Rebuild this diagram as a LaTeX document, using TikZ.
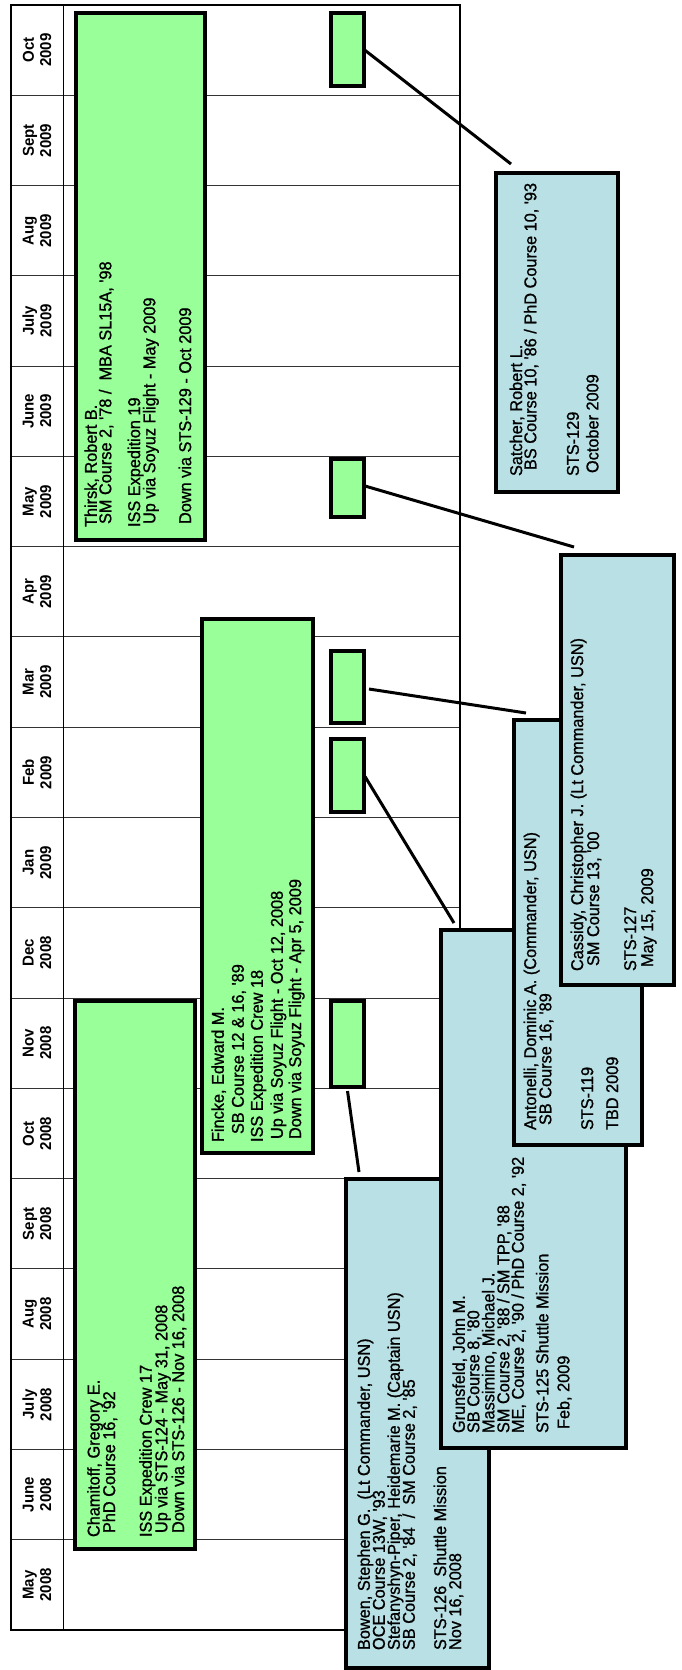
\documentclass[tikz,border=0pt]{standalone}
\usepackage{fontspec}
\setmainfont{Liberation Sans}
\newfontfamily\boxfont{Liberation Sans}[FakeBold=1.0]
\definecolor{gfill}{RGB}{153,255,153}
\definecolor{bfill}{RGB}{185,224,228}
\tikzset{
  gbox/.style={draw=black, line width=3.2pt, fill=gfill, inner sep=0pt, outer sep=0pt, anchor=north west},
  bbox/.style={draw=black, line width=3.3pt, fill=bfill, inner sep=0pt, outer sep=0pt, anchor=north west},
  txt/.style={rotate=90, yscale=1.05, anchor=base west, inner sep=0pt, outer sep=0pt, font=\boxfont\fontsize{16.3}{18}\selectfont},
  hdr/.style={rotate=90, yscale=1.05, align=center, inner sep=0pt, font=\bfseries\fontsize{15}{16.5}\selectfont},
  conn/.style={line width=3pt, draw=black},
  rowline/.style={line width=1pt, draw=black!80},
}
\newcommand\txtline[4]{\node[txt] (#1) at ({#2+0.3},#3) {#4};}
\begin{document}
\begin{tikzpicture}[x=1pt,y=-1pt]
\useasboundingbox (0,0) rectangle (681,1670);
\fill[white] (0,0) rectangle (681,1670);
% table grid
\foreach \k in {1,...,17}{
  \draw[rowline] (11,{5+\k*90.28}) -- (460,{5+\k*90.28});
}
\draw[line width=1pt] (63,5) -- (63,1630);
\draw[line width=2.2pt] (11,5) rectangle (460,1630);
% month headers
\foreach \m [count=\i from 0] in {Oct\\2009,Sept\\2009,Aug\\2009,July\\2009,June\\2009,May\\2009,Apr\\2009,Mar\\2009,Feb\\2009,Jan\\2009,Dec\\2008,Nov\\2008,Oct\\2008,Sept\\2008,Aug\\2008,July\\2008,June\\2008,May\\2008}{
  \node[hdr] (hdr\i) at (37,{5+(\i+0.5)*90.28}) {\m};
}
% ISS expedition boxes
\node[gbox, minimum width=129pt, minimum height=527pt] (thirsk) at (76,13) {};
\txtline{th1}{96.5}{527}{Thirsk, Robert B.}
\txtline{th2}{111}{524}{SM Course 2, '78 /\ \ MBA SL15A, '98}
\txtline{th3}{139.8}{527}{ISS Expedition 19}
\txtline{th4}{155}{524}{Up via Soyuz Flight - May 2009}
\txtline{th5}{190.8}{524}{Down via STS-129 - Oct 2009}

\node[gbox, minimum width=111pt, minimum height=534pt] (fincke) at (202,619) {};
\txtline{fi1}{223.5}{1142}{Fincke, Edward M.}
\txtline{fi2}{243.5}{1134}{SB Course 12 \& 16, '89}
\txtline{fi3}{262.5}{1142}{ISS Expedition Crew 18}
\txtline{fi4}{282.5}{1139}{Up via Soyuz Flight - Oct 12, 2008}
\txtline{fi5}{300.8}{1139}{Down via Soyuz Flight - Apr 5, 2009}

\node[gbox, minimum width=120pt, minimum height=548pt] (chamitoff) at (75,1001) {};
\txtline{ch1}{99.3}{1537}{Chamitoff, Gregory E.}
\txtline{ch2}{114.8}{1533}{PhD Course 16, '92}
\txtline{ch3}{151.4}{1537}{ISS Expedition Crew 17}
\txtline{ch4}{167}{1533}{Up via STS-124 - May 31, 2008}
\txtline{ch5}{183.8}{1533}{Down via STS-126 - Nov 16, 2008}

% shuttle mission markers
\node[gbox, minimum width=33pt, minimum height=73pt] (soct) at (331,13) {};
\node[gbox, minimum width=33pt, minimum height=58pt] (smay) at (331,459) {};
\node[gbox, minimum width=33pt, minimum height=72pt] (smar) at (331,651) {};
\node[gbox, minimum width=33pt, minimum height=73pt] (sfeb) at (331,739) {};
\node[gbox, minimum width=33pt, minimum height=86pt] (snov) at (331,1001) {};

% shuttle crew boxes
\node[bbox, minimum width=122pt, minimum height=319pt] (satcher) at (496,173) {};
\txtline{sa1}{521.8}{476}{Satcher, Robert L.}
\txtline{sa2}{536}{470}{BS Course 10, '86 / PhD Course 10, '93}
\txtline{sa3}{578.5}{476}{STS-129}
\txtline{sa4}{598.1}{473}{October 2009}

\node[bbox, minimum width=143pt, minimum height=489pt] (bowen) at (346,1179) {};
\txtline{bo1}{369.5}{1650}{Bowen, Stephen G.\ \ (Lt Commander, USN)}
\txtline{bo2}{384.5}{1650}{OCE Course 13W, '93}
\txtline{bo3}{399.5}{1650}{Stefanyshyn-Piper, Heidemarie M. (Captain USN)}
\txtline{bo4}{414.5}{1650}{SB Course 2, '84\ \ /\ \ SM Course 2, '85}
\txtline{bo5}{445.8}{1650}{STS-126\ \ Shuttle Mission}
\txtline{bo6}{460.8}{1650}{Nov 16, 2008}

\node[bbox, minimum width=185pt, minimum height=518pt] (grunsfeld) at (441,930) {};
\txtline{gr1}{464.5}{1433}{Grunsfeld, John M.}
\txtline{gr2}{479}{1433}{SB Course 8, '80}
\txtline{gr3}{494}{1433}{Massimino, Michael J.}
\txtline{gr4}{509}{1433}{SM Course 2, '88 / SM TPP, '88}
\txtline{gr5}{523.5}{1433}{ME, Course 2, '90 / PhD Course 2, '92}
\txtline{gr6}{548}{1433}{STS-125 Shuttle Mission}
\txtline{gr7}{569.1}{1429}{Feb, 2009}

\node[bbox, minimum width=128pt, minimum height=425pt] (antonelli) at (514,720) {};
\txtline{an1}{535.8}{1130}{Antonelli, Dominic A. (Commander, USN)}
\txtline{an2}{551}{1125}{SB Course 16, '89}
\txtline{an3}{592.8}{1130}{STS-119}
\txtline{an4}{617.8}{1130}{TBD 2009}

\node[bbox, minimum width=113pt, minimum height=430pt] (cassidy) at (561,555) {};
\txtline{ca1}{582.8}{971}{Cassidy, Christopher J. (Lt Commander, USN)}
\txtline{ca2}{598.8}{966}{SM Course 13, '00}
\txtline{ca3}{635.8}{971}{STS-127}
\txtline{ca4}{652.8}{967}{May 15, 2009}

% connectors
\draw[conn] (soct.east) -- ([shift={(15,-9)}]satcher.north west);
\draw[conn] ([shift={(1,-2)}]smay.east) -- ([shift={(13,-8)}]cassidy.north west);
\draw[conn] ([shift={(5,2)}]smar.east) -- ([shift={(12,-7)}]antonelli.north west);
\draw[conn] ([shift={(1,1)}]sfeb.east) -- ([shift={(13,-7)}]grunsfeld.north west);
\draw[conn] ([shift={(0,4)}]snov.south) -- ([shift={(13,-7)}]bowen.north west);
\end{tikzpicture}
\end{document}
